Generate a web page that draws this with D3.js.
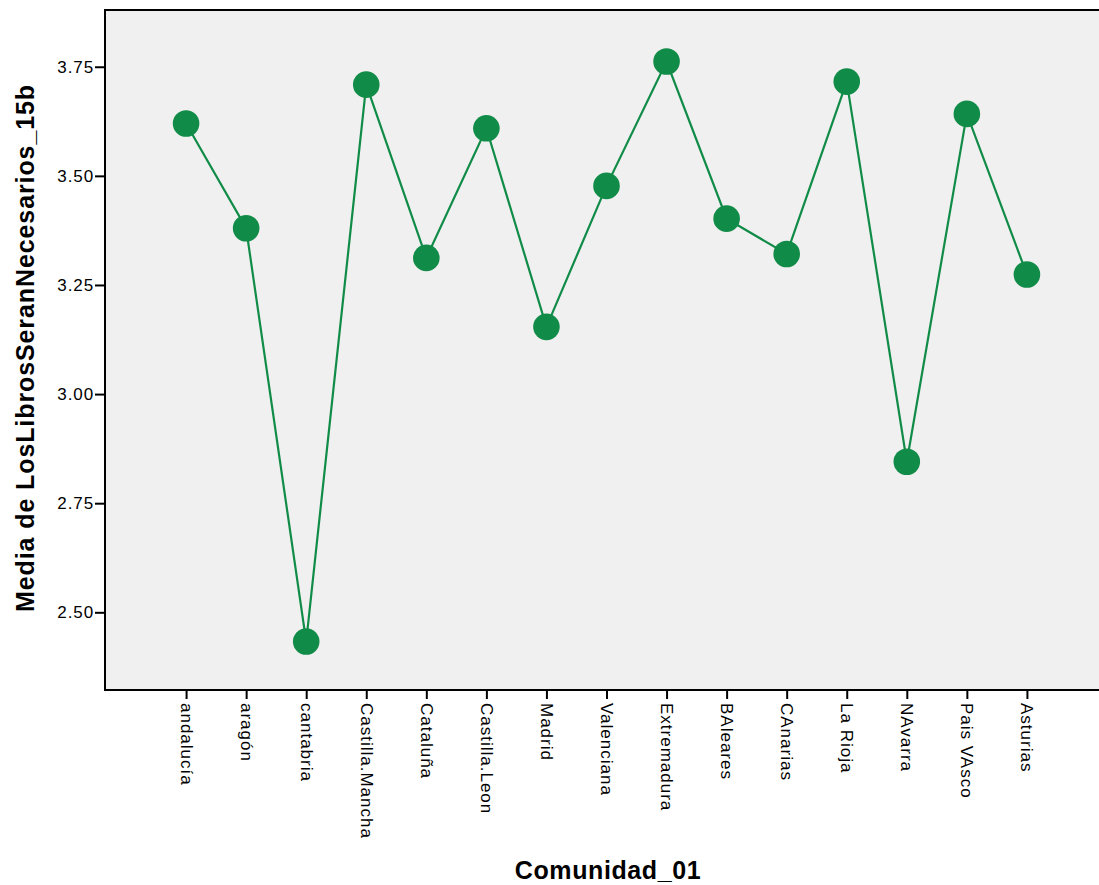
<!DOCTYPE html>
<html><head><meta charset="utf-8">
<script src="https://cdn.jsdelivr.net/npm/d3@7"></script>
<style>body{margin:0;background:#fff}svg{display:block}text{font-family:"Liberation Sans",Arial,sans-serif}</style>
</head><body>
<svg id="c" width="1099" height="885"></svg>
<script>
const categories = ["andalucía","aragón","cantabria","Castilla.Mancha","Cataluña","Castilla.Leon","Madrid","Valenciana","Extremadura","BAleares","CAnarias","La Rioja","NAvarra","Pais VAsco","Asturias"];
const values = [3.620, 3.380, 2.433, 3.709, 3.312, 3.609, 3.154, 3.477, 3.762, 3.402, 3.321, 3.716, 2.845, 3.642, 3.274];
const yTicks = [2.50, 2.75, 3.00, 3.25, 3.50, 3.75];
const xTitle = "Comunidad_01";
const yTitle = "Media de LosLibrosSeranNecesarios_15b";

const svg = d3.select("#c");
const L = 105, T = 10, R = 1108, B = 690;
const green = "#118c48";

const x = d3.scalePoint().domain(categories).range([L, R]).padding(1.35);
const y = d3.scaleLinear().domain([2.322, 3.88]).range([B, T]);

svg.append("rect").attr("x", L).attr("y", T).attr("width", R - L).attr("height", B - T)
  .attr("fill", "#f0f0f0").attr("stroke", "#000").attr("stroke-width", 2);

const ya = svg.append("g").attr("transform", `translate(${L},0)`)
  .call(d3.axisLeft(y).tickValues(yTicks).tickFormat(d3.format(".2f")).tickSize(10).tickPadding(1));
ya.select(".domain").remove();
ya.selectAll("line").attr("stroke", "#000").attr("stroke-width", 2);
ya.selectAll("text").attr("font-size", 17).attr("fill", "#000").attr("letter-spacing", 0.9);

const xa = svg.append("g").attr("transform", `translate(0,${B})`)
  .call(d3.axisBottom(x).tickSize(9).tickPadding(0));
xa.select(".domain").remove();
xa.selectAll("line").attr("stroke", "#000").attr("stroke-width", 2);
xa.selectAll("text").attr("font-size", 17).attr("fill", "#000").attr("letter-spacing", 1.0)
  .attr("transform", "translate(0,13) rotate(90)").attr("text-anchor", "start")
  .attr("dy", "0.35em").attr("x", 0).attr("y", 0);

const line = d3.line().x((d, i) => x(categories[i])).y(d => y(d));
svg.append("path").datum(values).attr("d", line).attr("fill", "none")
  .attr("stroke", green).attr("stroke-width", 2.2);

svg.append("g").selectAll("circle").data(values).join("circle")
  .attr("cx", (d, i) => x(categories[i])).attr("cy", d => y(d)).attr("r", 13.3)
  .attr("fill", green);

svg.append("text").attr("x", 608).attr("y", 879).attr("text-anchor", "middle")
  .attr("font-size", 25).attr("font-weight", "bold").attr("letter-spacing", 0.6).text(xTitle);
svg.append("text").attr("transform", "translate(34,348) rotate(-90)").attr("text-anchor", "middle")
  .attr("font-size", 25).attr("font-weight", "bold").attr("letter-spacing", 0.9).text(yTitle);
</script>
</body></html>
